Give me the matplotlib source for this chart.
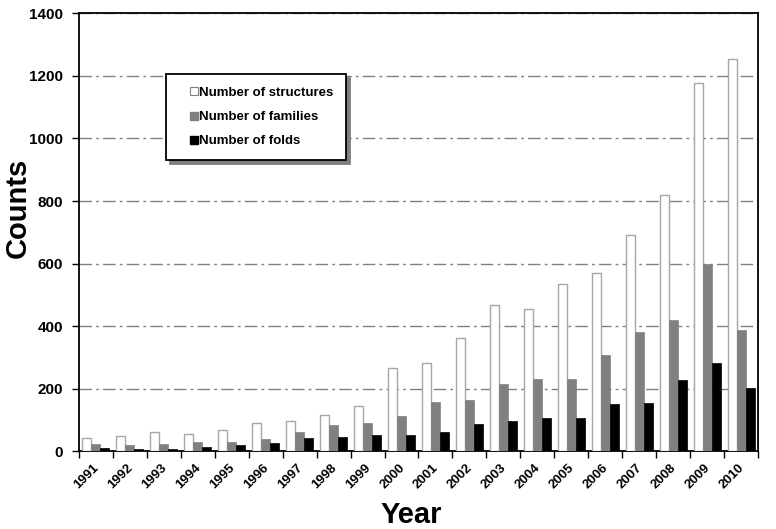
import matplotlib
matplotlib.use("Agg")
import matplotlib.pyplot as plt
import matplotlib.transforms as mtransforms
from matplotlib.lines import Line2D
import numpy as np

plt.rcParams["font.family"] = ["Liberation Sans", "DejaVu Sans"]
plt.rcParams["font.weight"] = "bold"

years = ["1991", "1992", "1993", "1994", "1995", "1996", "1997", "1998", "1999", "2000",
         "2001", "2002", "2003", "2004", "2005", "2006", "2007", "2008", "2009", "2010"]
structures = [43, 49, 60, 54, 67, 90, 95, 114, 144, 265,
              283, 362, 467, 456, 534, 570, 691, 820, 1177, 1253]
families = [22, 19, 22, 30, 30, 38, 61, 82, 90, 112,
            156, 162, 216, 232, 232, 308, 381, 420, 600, 386]
folds = [9, 5, 5, 12, 20, 26, 42, 44, 52, 52,
         60, 88, 97, 107, 107, 149, 153, 226, 282, 202]

fig = plt.figure(figsize=(7.76, 5.29), dpi=100)
ax = fig.add_axes([0.1018, 0.1474, 0.875, 0.8271])

x = np.arange(len(years))
w = 0.265
ax.bar(x - w, structures, w, color="white", edgecolor="#a6a6a6", linewidth=1, zorder=3)
ax.bar(x, families, w, color="#808080", edgecolor="#808080", linewidth=0.5, zorder=3)
ax.bar(x + w, folds, w, color="black", edgecolor="black", linewidth=0.5, zorder=3)

ax.set_xlim(-0.5, len(years) - 0.5)
ax.set_ylim(0, 1400)
ax.set_yticks(range(0, 1401, 200))
ax.tick_params(axis="y", labelsize=11, length=5, width=1, direction="out", pad=6.5)

# labels at category centres, tick marks at category boundaries
ax.set_xticks(x)
ax.set_xticks(np.arange(-0.5, len(years), 1), minor=True)
ax.tick_params(axis="x", which="major", length=0, pad=8)
ax.tick_params(axis="x", which="minor", length=5, width=1, direction="out")
ax.set_xticklabels(years, rotation=45, ha="right", rotation_mode="anchor", fontsize=9.5)
offset = mtransforms.ScaledTranslation(-3 / 100, 0, fig.dpi_scale_trans)
for lbl in ax.get_xticklabels():
    lbl.set_transform(lbl.get_transform() + offset)

for s in ax.spines.values():
    s.set_linewidth(1.3)
    s.set_color("black")

ax.yaxis.grid(True, color="#808080", linestyle=(0, (9, 3, 2, 3)), linewidth=1, zorder=0)
ax.set_axisbelow(True)

ax.set_xlabel("Year", fontsize=21, fontweight="bold")
ax.set_ylabel("Counts", fontsize=21, fontweight="bold")
ax.xaxis.set_label_coords(0.49, -0.114)
ax.yaxis.set_label_coords(-0.07, 0.555)

handles = [
    Line2D([], [], linestyle="none", marker="s", markersize=6, markerfacecolor="white",
           markeredgecolor="#808080", markeredgewidth=0.8),
    Line2D([], [], linestyle="none", marker="s", markersize=6, markerfacecolor="#808080",
           markeredgecolor="#808080"),
    Line2D([], [], linestyle="none", marker="s", markersize=6, markerfacecolor="black",
           markeredgecolor="black"),
]
leg = ax.legend(handles, ["Number of structures", "Number of families", "Number of folds"],
                loc="upper left", bbox_to_anchor=(0.128, 0.861), borderaxespad=0,
                fontsize=9.5, frameon=True, fancybox=False, framealpha=1,
                edgecolor="black", borderpad=0.95, handlelength=2.4, handletextpad=-0.85,
                labelspacing=0.9,
                shadow={"ox": 3, "oy": -3, "color": "#7f7f7f", "alpha": 1})
leg.get_frame().set_linewidth(1.3)
leg.set_zorder(5)

fig.savefig("out.png", dpi=100)
